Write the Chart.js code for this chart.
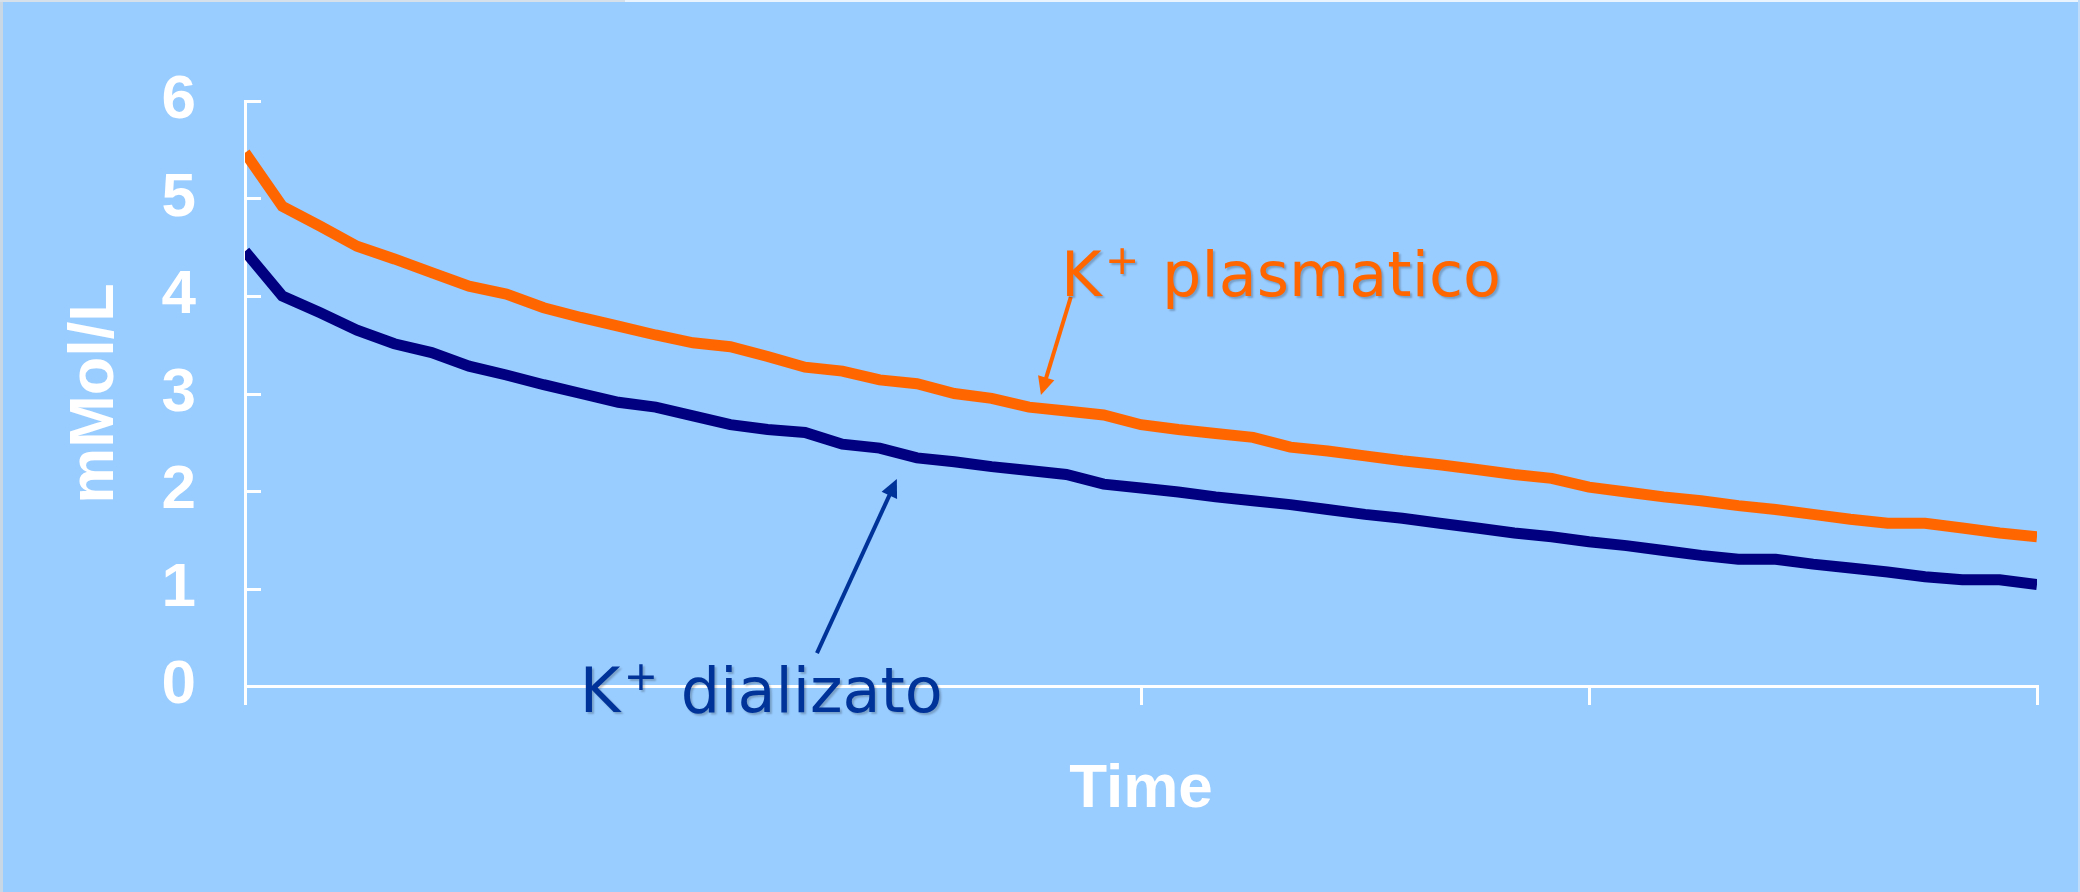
<!DOCTYPE html>
<html>
<head>
<meta charset="utf-8">
<title>K+ plasmatico / K+ dializato</title>
<script src="https://cdn.jsdelivr.net/npm/chart.js@4.4.1/dist/chart.umd.min.js"></script>
<style>
  html, body { margin: 0; padding: 0; background: #99CCFF; overflow: hidden; }
  canvas { display: block; }
</style>
</head>
<body>
<canvas id="chart" width="2080" height="892"></canvas>
<script>
// Sampling steps along the session (x axis), 49 samples
const sampleIndex = [
  0, 1, 2, 3, 4, 5, 6, 7, 8, 9, 10, 11, 12, 13, 14, 15, 16,
  17, 18, 19, 20, 21, 22, 23, 24, 25, 26, 27, 28, 29, 30, 31, 32,
  33, 34, 35, 36, 37, 38, 39, 40, 41, 42, 43, 44, 45, 46, 47, 48
];

// Plasma potassium, mMol/L
const plasmaK = [
  5.47, 4.92, 4.72, 4.51, 4.38, 4.24, 4.10, 4.02, 3.88, 3.78, 3.69, 3.60, 3.52,
  3.48, 3.38, 3.27, 3.23, 3.14, 3.10, 3.00, 2.95, 2.86, 2.82, 2.78, 2.68, 2.63,
  2.59, 2.55, 2.45, 2.41, 2.36, 2.31, 2.27, 2.22, 2.17, 2.13, 2.04, 1.99, 1.94,
  1.90, 1.85, 1.81, 1.76, 1.71, 1.67, 1.67, 1.62, 1.57, 1.53
];

// Dialysate potassium, mMol/L
const dialysateK = [
  4.46, 4.00, 3.83, 3.65, 3.51, 3.42, 3.28, 3.19, 3.09, 3.00, 2.91, 2.86, 2.77,
  2.68, 2.63, 2.60, 2.48, 2.44, 2.34, 2.30, 2.25, 2.21, 2.17, 2.07, 2.03, 1.99,
  1.94, 1.90, 1.86, 1.81, 1.76, 1.72, 1.67, 1.62, 1.57, 1.53, 1.48, 1.44, 1.39,
  1.34, 1.30, 1.30, 1.25, 1.21, 1.17, 1.12, 1.09, 1.09, 1.04
];

// Axis tick values
const yTickValues = [0, 1, 2, 3, 4, 5, 6];
const xTickValues = [0, 24, 36, 48];

const AXIS_WHITE = '#FFFFFF';
const BOLD_FONT = '"Liberation Sans", Arial, sans-serif';
const LABEL_FONT = '"DejaVu Sans", Verdana, sans-serif';

// Callout labels with arrows, anchored in data coordinates (x = sample, y = mMol/L)
const callouts = [
  { text: 'plasmatico', color: '#FF6600', label: [22.02, 4.0],   tail: [22.12, 3.99], tip: [21.32, 2.985] },
  { text: 'dializato',  color: '#003399', label: [9.13, -0.267], tail: [15.32, 0.338], tip: [17.46, 2.123] }
];

const backgroundPlugin = {
  id: 'slideBackground',
  beforeDraw(chart) {
    const { ctx, width, height } = chart;
    ctx.save();
    ctx.fillStyle = '#99CCFF';
    ctx.fillRect(0, 0, width, height);
    // thin slide frame edges
    ctx.fillStyle = '#C9D6E3';
    ctx.fillRect(0, 0, 3, height);
    ctx.fillStyle = '#D6E0EA';
    ctx.fillRect(0, 0, 625, 2);
    ctx.fillStyle = '#EAF4FF';
    ctx.fillRect(625, 0, width - 625, 2);
    ctx.fillStyle = '#BFDDFB';
    ctx.fillRect(width - 2, 0, 2, height);
    ctx.restore();
  }
};

// y-axis tick marks sit on the inner (plot) side of the axis
const innerTicksPlugin = {
  id: 'innerYTicks',
  beforeDatasetsDraw(chart) {
    const { ctx, scales: { y }, chartArea } = chart;
    ctx.save();
    ctx.strokeStyle = AXIS_WHITE;
    ctx.lineWidth = 3;
    ctx.lineCap = 'butt';
    y.ticks.forEach(t => {
      const py = Math.round(y.getPixelForValue(t.value)) + 0.5;
      ctx.beginPath();
      ctx.moveTo(chartArea.left, py);
      ctx.lineTo(chartArea.left + 16, py);
      ctx.stroke();
    });
    ctx.restore();
  }
};

function drawArrow(ctx, x0, y0, x1, y1, color) {
  const dx = x1 - x0, dy = y1 - y0;
  const len = Math.hypot(dx, dy);
  const ux = dx / len, uy = dy / len;
  const headLen = 18, headHalf = 8.5;
  const bx = x1 - ux * headLen, by = y1 - uy * headLen;
  ctx.strokeStyle = color;
  ctx.fillStyle = color;
  ctx.lineWidth = 4;
  ctx.lineCap = 'butt';
  ctx.beginPath();
  ctx.moveTo(x0, y0);
  ctx.lineTo(bx + ux * 2, by + uy * 2);
  ctx.stroke();
  ctx.beginPath();
  ctx.moveTo(x1, y1);
  ctx.lineTo(bx - uy * headHalf, by + ux * headHalf);
  ctx.lineTo(bx + uy * headHalf, by - ux * headHalf);
  ctx.closePath();
  ctx.fill();
}

const calloutPlugin = {
  id: 'callouts',
  afterDatasetsDraw(chart) {
    const { ctx, scales: { x, y } } = chart;
    ctx.save();
    callouts.forEach(c => {
      const lx = x.getPixelForValue(c.label[0]);
      const ly = y.getPixelForValue(c.label[1]);
      drawArrow(ctx,
        x.getPixelForValue(c.tail[0]), y.getPixelForValue(c.tail[1]),
        x.getPixelForValue(c.tip[0]),  y.getPixelForValue(c.tip[1]),
        c.color);

      ctx.save();
      ctx.fillStyle = c.color;
      ctx.shadowColor = 'rgba(0, 0, 0, 0.22)';
      ctx.shadowOffsetX = 2;
      ctx.shadowOffsetY = 2;
      ctx.shadowBlur = 2;
      ctx.textAlign = 'left';
      ctx.textBaseline = 'alphabetic';
      ctx.font = `62px ${LABEL_FONT}`;
      ctx.fillText('K', lx - 6, ly);
      ctx.fillText(c.text, lx + 95, ly);
      ctx.font = `41px ${LABEL_FONT}`;
      ctx.textAlign = 'center';
      ctx.textBaseline = 'middle';
      ctx.fillText('+', lx + 55, ly - 33);
      ctx.restore();
    });
    ctx.restore();
  }
};

const toPoints = values => sampleIndex.map((k, i) => ({ x: k, y: values[i] }));

new Chart(document.getElementById('chart'), {
  type: 'line',
  data: {
    datasets: [
      {
        label: 'K+ plasmatico',
        data: toPoints(plasmaK),
        borderColor: '#FF6600',
        borderWidth: 11,
        pointRadius: 0,
        tension: 0,
        borderJoinStyle: 'miter',
        borderCapStyle: 'butt',
        fill: false
      },
      {
        label: 'K+ dializato',
        data: toPoints(dialysateK),
        borderColor: '#000080',
        borderWidth: 11,
        pointRadius: 0,
        tension: 0,
        borderJoinStyle: 'miter',
        borderCapStyle: 'butt',
        fill: false
      }
    ]
  },
  options: {
    responsive: false,
    animation: false,
    devicePixelRatio: 1,
    layout: { padding: { top: 101, right: 43, bottom: 0, left: 0 } },
    plugins: {
      legend: { display: false },
      tooltip: { enabled: false }
    },
    scales: {
      x: {
        type: 'linear',
        position: 'bottom',
        min: 0,
        max: 48,
        afterBuildTicks: scale => { scale.ticks = xTickValues.map(v => ({ value: v })); },
        afterFit: scale => { scale.height = 206; },
        border: { display: true, color: AXIS_WHITE, width: 3 },
        grid: {
          display: true,
          drawOnChartArea: false,
          drawTicks: true,
          tickLength: 19,
          color: AXIS_WHITE,
          lineWidth: 3
        },
        ticks: { display: false },
        title: {
          display: true,
          text: 'Time',
          color: AXIS_WHITE,
          font: { family: BOLD_FONT, size: 62, weight: 'bold' },
          padding: { top: 0, bottom: 65 }
        }
      },
      y: {
        type: 'linear',
        position: 'left',
        min: 0,
        max: 6,
        afterBuildTicks: scale => { scale.ticks = yTickValues.map(v => ({ value: v })); },
        afterFit: scale => { scale.width = 245; },
        border: { display: true, color: AXIS_WHITE, width: 3 },
        grid: { display: false, drawTicks: false },
        ticks: {
          color: AXIS_WHITE,
          padding: 49,
          font: { family: BOLD_FONT, size: 62, weight: 'bold' }
        },
        title: {
          display: true,
          text: 'mMol/L',
          color: AXIS_WHITE,
          font: { family: BOLD_FONT, size: 63, weight: 'bold' },
          padding: { top: 58, bottom: 0 }
        }
      }
    }
  },
  plugins: [backgroundPlugin, innerTicksPlugin, calloutPlugin]
});
</script>
</body>
</html>
